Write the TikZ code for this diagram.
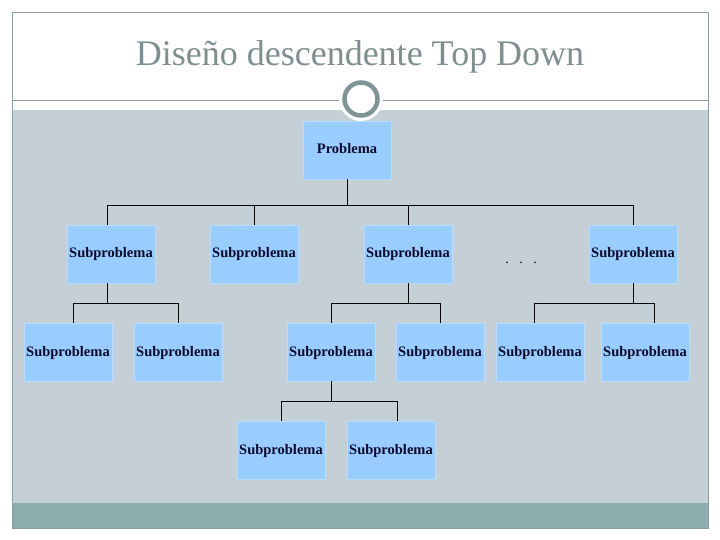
\documentclass[tikz,border=0pt]{standalone}
\usepackage{fontspec}
\setmainfont{Liberation Serif}
\definecolor{boxfill}{HTML}{99CCFF}
\definecolor{boxline}{HTML}{B8DCFF}
\definecolor{bodybg}{HTML}{C5D0D6}
\definecolor{bandbg}{HTML}{8BADAD}
\definecolor{framec}{HTML}{8E9E9E}
\definecolor{titlec}{HTML}{7F8F8F}
\definecolor{ringc}{HTML}{7F9595}
\definecolor{txtc}{HTML}{0A0A2A}
\tikzset{
  box/.style={draw=boxline, line width=0.8pt, fill=boxfill, minimum width=88pt, minimum height=58pt,
    inner sep=0pt, text height=8pt, text depth=0pt, font=\fontsize{14.5}{16}\selectfont\bfseries, text=txtc},
  conn/.style={draw=black, line width=0.9pt}
}
\begin{document}
\begin{tikzpicture}[x=1pt,y=-1pt]
\useasboundingbox (0,0) rectangle (720,540);
\fill[white] (0,0) rectangle (720,540);
% body and band
\fill[bodybg] (12,110) rectangle (708,503);
\fill[bandbg] (12,503) rectangle (708,528);
\draw[framec, line width=0.8pt] (12,12) rectangle (708,528);
% title
\node[text=titlec, font=\fontsize{36}{42}\selectfont] (title) at (360,57) {Diseño descendente Top Down};
% rule and ring
\draw[framec, line width=0.9pt] (12,100) -- (708,100);
\fill[white] (361,99) circle (22);
\draw[ringc, line width=4.5pt] (361,99) circle (16.5);
% nodes
\node[box] (p) at (347,150) {Problema};
\node[box] (s1) at (111,254) {Subproblema};
\node[box] (s2) at (254,254) {Subproblema};
\node[box] (s3) at (408,254) {Subproblema};
\node[font=\fontsize{14}{15}\selectfont, text=txtc] (dots) at (521,263) {.\ \ \ .\ \ \ .};
\node[box] (s5) at (633,254) {Subproblema};
\node[box] (s11) at (68,352) {Subproblema};
\node[box] (s12) at (178,352) {Subproblema};
\node[box] (s31) at (331,352) {Subproblema};
\node[box] (s32) at (440,352) {Subproblema};
\node[box] (s51) at (540,352) {Subproblema};
\node[box] (s52) at (645,352) {Subproblema};
\node[box] (s311) at (281,450) {Subproblema};
\node[box] (s312) at (391,450) {Subproblema};
% connectors
\draw[conn] (p.south) -- ++(0,26) -| ([xshift=-4pt]s1.north);
\draw[conn] (p.south) -- ++(0,26) -| (s2.north);
\draw[conn] (p.south) -- ++(0,26) -| (s3.north);
\draw[conn] (p.south) -- ++(0,26) -| (s5.north);
\draw[conn] ([xshift=-4pt]s1.south) -- ++(0,20) -| ([xshift=5pt]s11.north);
\draw[conn] ([xshift=-4pt]s1.south) -- ++(0,20) -| (s12.north);
\draw[conn] (s3.south) -- ++(0,20) -| (s31.north);
\draw[conn] (s3.south) -- ++(0,20) -| (s32.north);
\draw[conn] (s5.south) -- ++(0,20) -| ([xshift=-6pt]s51.north);
\draw[conn] (s5.south) -- ++(0,20) -| ([xshift=9pt]s52.north);
\draw[conn] (s31.south) -- ++(0,20) -| (s311.north);
\draw[conn] (s31.south) -- ++(0,20) -| ([xshift=6pt]s312.north);
\end{tikzpicture}
\end{document}
